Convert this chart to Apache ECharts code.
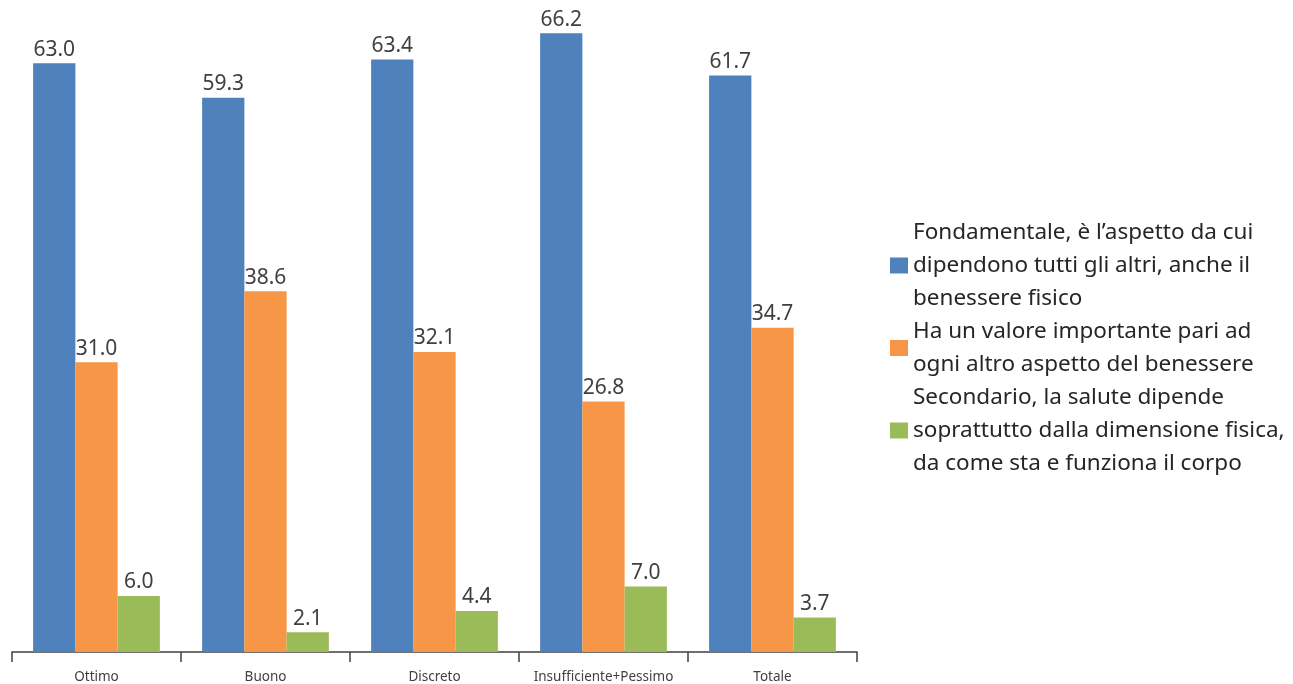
<!DOCTYPE html>
<html>
<head>
<meta charset="utf-8">
<script src="https://cdn.jsdelivr.net/npm/echarts@6/dist/echarts.min.js"></script>
<style>
  html, body { margin: 0; padding: 0; background: #fff; }
  #chart { width: 1293px; height: 684px; }
</style>
</head>
<body>
<div id="chart"></div>
<script>
// categorie e valori (%)
var categories = ['Ottimo', 'Buono', 'Discreto', 'Insufficiente+Pessimo', 'Totale'];
var seriesNames = [
  'Fondamentale, è l\u2019aspetto da cui\ndipendono tutti gli altri, anche il\nbenessere fisico',
  'Ha un valore importante pari ad\nogni altro aspetto del benessere',
  'Secondario, la salute dipende\nsoprattutto dalla dimensione fisica,\nda come sta e funziona il corpo'
];
var fondamentale = [63.0, 59.3, 63.4, 66.2, 61.7];
var importante = [31.0, 38.6, 32.1, 26.8, 34.7];
var secondario = [6.0, 2.1, 4.4, 7.0, 3.7];
var colors = ['#4F81BD', '#F79646', '#9BBB59'];

var font = 'Noto Sans';

function makeSeries(name, data, color) {
  return {
    name: name,
    type: 'bar',
    data: data,
    barGap: '0%',
    barCategoryGap: '25%',
    itemStyle: { color: color },
    label: {
      show: true,
      position: 'top',
      distance: 3,
      fontFamily: font,
      fontSize: 21,
      color: '#404040',
      formatter: function (p) { return p.value.toFixed(1); }
    }
  };
}

var chart = echarts.init(document.getElementById('chart'));
chart.setOption({
  animation: false,
  color: colors,
  grid: { left: 12, right: 436, top: 16.5, bottom: 32, containLabel: false },
  legend: {
    orient: 'vertical',
    left: 885,
    top: 211,
    itemWidth: 18,
    itemHeight: 16,
    itemGap: 0,
    icon: 'rect',
    textStyle: { fontFamily: font, fontSize: 22.5, color: '#262626', lineHeight: 33 },
    data: seriesNames
  },
  xAxis: {
    type: 'category',
    data: categories,
    axisLine: { lineStyle: { color: '#404040', width: 1.5 } },
    axisTick: { show: true, interval: 0, length: 10, lineStyle: { color: '#404040', width: 1.5 } },
    axisLabel: { interval: 0, fontFamily: font, fontSize: 13.5, color: '#404040', margin: 18 }
  },
  yAxis: {
    type: 'value',
    min: 0,
    max: 68,
    show: false,
    splitLine: { show: false }
  },
  series: [
    makeSeries(seriesNames[0], fondamentale, colors[0]),
    makeSeries(seriesNames[1], importante, colors[1]),
    makeSeries(seriesNames[2], secondario, colors[2])
  ]
});
</script>
</body>
</html>
